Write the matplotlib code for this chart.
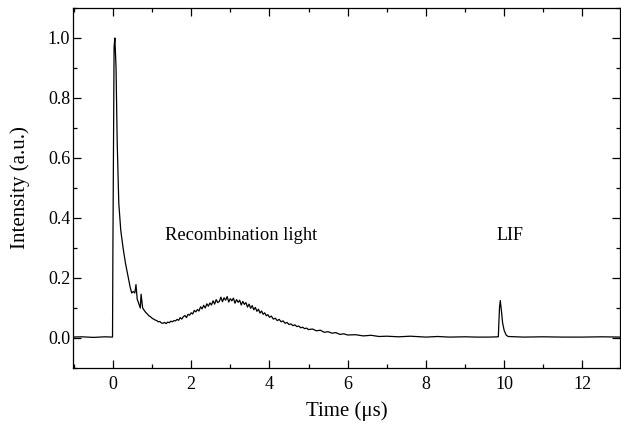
import matplotlib
matplotlib.use("Agg")
import matplotlib.pyplot as plt
from matplotlib.ticker import MultipleLocator

# Time (us) and intensity (a.u.)
time_us = [
    -1.1, -0.8, -0.5, -0.2, -0.01,
    0.0, 0.03, 0.05, 0.08, 0.11, 0.15, 0.20, 0.26, 0.32, 0.38, 0.44, 0.48,
    0.52, 0.56, 0.59, 0.62, 0.66, 0.70, 0.72, 0.76,
    0.80, 0.84, 0.88, 0.92, 0.96, 1.00, 1.04, 1.08, 1.12, 1.16, 1.20, 1.24,
    1.28, 1.32, 1.36, 1.40, 1.44, 1.48, 1.52, 1.56, 1.60, 1.64, 1.68, 1.72,
    1.76, 1.80, 1.84, 1.88, 1.92, 1.96, 2.00, 2.04, 2.08, 2.12, 2.16, 2.20,
    2.24, 2.28, 2.32, 2.36, 2.40, 2.44, 2.48, 2.52, 2.56, 2.60, 2.64, 2.68,
    2.72, 2.76, 2.80, 2.84, 2.88, 2.92, 2.96, 3.00, 3.04, 3.08, 3.12, 3.16,
    3.20, 3.24, 3.28, 3.32, 3.36, 3.40, 3.44, 3.48, 3.52, 3.56, 3.60, 3.64,
    3.68, 3.72, 3.76, 3.80, 3.84, 3.88, 3.92, 3.96, 4.00, 4.05, 4.10, 4.15,
    4.20, 4.25, 4.30, 4.35, 4.40, 4.45, 4.50, 4.55, 4.60, 4.65, 4.70, 4.75,
    4.80, 4.85, 4.90, 4.95, 5.00,
    5.10, 5.20, 5.30, 5.40, 5.50, 5.60, 5.70, 5.80, 5.90, 6.00, 6.20, 6.40,
    6.60, 6.80, 7.00, 7.30, 7.60, 8.00, 8.30, 8.60, 9.00, 9.30, 9.60, 9.85,
    9.88, 9.90, 9.93, 9.96, 10.00, 10.05, 10.10, 10.50, 11.00, 11.50, 12.00,
    12.50, 13.00,
]
intensity = [
    0.003, 0.004, 0.002, 0.004, 0.003,
    0.30, 0.97, 1.00, 0.90, 0.65, 0.45, 0.36, 0.30, 0.25, 0.21, 0.17, 0.15,
    0.155, 0.15, 0.178, 0.13, 0.115, 0.10, 0.146, 0.10,
    0.092, 0.085, 0.080, 0.074, 0.071, 0.066, 0.063, 0.060, 0.058, 0.054, 0.055, 0.050,
    0.049, 0.052, 0.048, 0.053, 0.051, 0.056, 0.054, 0.058, 0.057, 0.062, 0.059, 0.068,
    0.063, 0.071, 0.075, 0.068, 0.079, 0.076, 0.084, 0.080, 0.092, 0.087, 0.095, 0.090,
    0.104, 0.097, 0.109, 0.100, 0.114, 0.106, 0.117, 0.110, 0.124, 0.113, 0.128, 0.118,
    0.122, 0.136, 0.121, 0.134, 0.126, 0.138, 0.120, 0.131, 0.124, 0.133, 0.116, 0.128,
    0.119, 0.126, 0.110, 0.122, 0.112, 0.118, 0.103, 0.113, 0.099, 0.108, 0.094, 0.102,
    0.089, 0.096, 0.083, 0.090, 0.079, 0.084, 0.074, 0.078, 0.069, 0.073, 0.063, 0.066,
    0.058, 0.062, 0.054, 0.057, 0.049, 0.052, 0.045, 0.047, 0.041, 0.044, 0.038, 0.040,
    0.034, 0.036, 0.031, 0.033, 0.028,
    0.030, 0.024, 0.026, 0.019, 0.021, 0.016, 0.018, 0.012, 0.014, 0.010, 0.011, 0.007,
    0.009, 0.005, 0.006, 0.004, 0.006, 0.003, 0.005, 0.003, 0.004, 0.003, 0.003, 0.004,
    0.100, 0.125, 0.090, 0.050, 0.025, 0.010, 0.005, 0.003, 0.004, 0.003, 0.003,
    0.004, 0.003,
]

x_ticks = [0, 2, 4, 6, 8, 10, 12]
y_ticks = [0.0, 0.2, 0.4, 0.6, 0.8, 1.0]

plt.rcParams['font.family'] = ['Liberation Serif', 'DejaVu Serif']
plt.rcParams['mathtext.fontset'] = 'stix'

fig = plt.figure(figsize=(6.21, 4.28), dpi=100)
ax = fig.add_axes([73/621, 1-368/428, (620-73)/621, (368-8)/428])

ax.plot(time_us, intensity, color='black', lw=0.9)

ax.set_xlim(-1.02, 12.96)
ax.set_ylim(-0.1, 1.1)
ax.set_xticks(x_ticks)
ax.set_yticks(y_ticks)
ax.set_yticklabels([f"{v:.1f}" for v in y_ticks])
ax.xaxis.set_minor_locator(MultipleLocator(1))
ax.yaxis.set_minor_locator(MultipleLocator(0.1))
ax.tick_params(which='both', direction='in', top=True, right=True,
               labelsize=13, width=0.9)
ax.tick_params(which='major', length=6)
ax.tick_params(which='minor', length=3)
ax.tick_params(axis='x', pad=6)
ax.tick_params(axis='y', pad=2)
for s in ax.spines.values():
    s.set_linewidth(0.9)

ax.set_xlabel('Time (\u03bcs)', fontsize=15, labelpad=6)
ax.set_ylabel('Intensity (a.u.)', fontsize=15, labelpad=13)

ax.text(1.34, 0.342, 'Recombination light', fontsize=13.3, va='center', ha='left')
ax.text(9.8, 0.342, 'LIF', fontsize=13, va='center', ha='left')

fig.savefig('out.png', dpi=100)
